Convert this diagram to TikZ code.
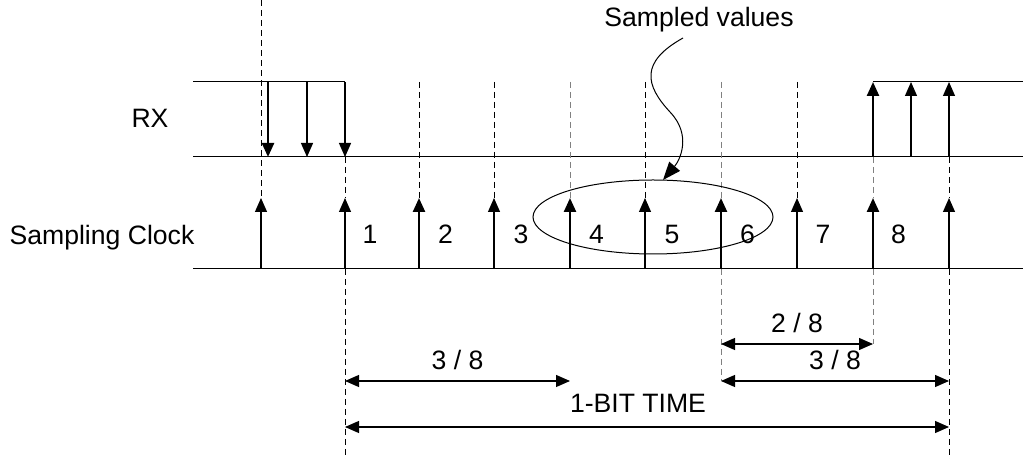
\documentclass[tikz,border=0pt]{standalone}
\usepackage{fontspec}
\setmainfont{Liberation Sans}
\usetikzlibrary{arrows.meta}

\begin{document}
\begin{tikzpicture}[x=0.5pt,y=-0.5pt,
    every node/.style={font=\fontsize{13.3}{16}\selectfont},
    tick/.style={-{Triangle[length=7pt,width=6pt]}, line width=0.6pt},
    tickbold/.style={tick, line width=1.2pt},
    guide/.style={dash pattern=on 3pt off 2pt, line width=0.5pt},
    guidegray/.style={guide, gray},
    span/.style={{Triangle[length=7pt,width=6pt]}-{Triangle[length=7pt,width=6pt]}, line width=0.6pt}]
    \useasboundingbox (0,0) rectangle (1023,459);
    % Étiquettes des signaux
    \node (rx) at (150,118) {RX};
    \node (clk) at (102,238) {Sampling Clock};
    % Signal RX
    \draw[line width=0.5pt] (193,82) -- (345,82);
    \draw[line width=0.5pt] (873,82) -- (1023,82);
    \draw[line width=0.5pt] (193,157) -- (1023,157);
    \draw[tickbold] (268,82) -- (268,157);
    \draw[tick] (307,82) -- (307,157);
    \draw[tick] (345,82) -- (345,157);
    \draw[tickbold] (873,157) -- (873,82);
    \draw[tick] (911,157) -- (911,82);
    \draw[tick] (949,157) -- (949,82);
    % Horloge d'échantillonnage
    \draw[line width=0.5pt] (193,269) -- (1023,269);
    \foreach \x/\s in {261/tick, 345/tick, 419/tickbold, 494/tick, 570/tickbold,
                       645/tick, 721/tickbold, 797/tick, 873/tickbold, 949/tick}
        \draw[\s] (\x,269) -- (\x,198);
    \foreach \n [count=\i from 0] in {1,...,8}
        \node at (370+75.5*\i,234) {\n};
    % Repères pointillés
    \draw[guide] (261,0) -- (261,198);
    \draw[guide] (345,157) -- (345,198);
    \draw[guide] (345,269) -- (345,459);
    \foreach \x in {419,494,645,797}
        \draw[guide] (\x,82) -- (\x,198);
    \foreach \x in {570,721}
        \draw[guidegray] (\x,82) -- (\x,198);
    \draw[guidegray] (873,157) -- (873,198);
    \draw[guide] (949,157) -- (949,198);
    \draw[guidegray] (721,269) -- (721,381);
    \draw[guidegray] (873,269) -- (873,344);
    \draw[guide] (949,269) -- (949,459);
    % Valeurs échantillonnées
    \draw[line width=0.5pt] (653,217) ellipse [x radius=120, y radius=37];
    \node (sv) at (699,20) {Sampled values};
    \coordinate (wstart) at (683,38);
    \coordinate (etop) at (663,180);
    \draw[-{Triangle[length=9pt,width=7pt]}, line width=0.5pt]
        (wstart) .. controls (640,62) and (645,85) .. (670,112)
        .. controls (692,135) and (680,160) .. (etop);
    % Durées
    \draw[span] (721,344) -- (873,344) node[pos=0.5, above=2pt] {2 / 8};
    \draw[span] (345,381) -- (570,381) node[pos=0.5, above=2pt] {3 / 8};
    \draw[span] (721,381) -- (949,381) node[pos=0.5, above=2pt] {3 / 8};
    \draw[span] (345,427) -- (949,427);
    \node at (638,403) {1-BIT TIME};
\end{tikzpicture}
\end{document}
